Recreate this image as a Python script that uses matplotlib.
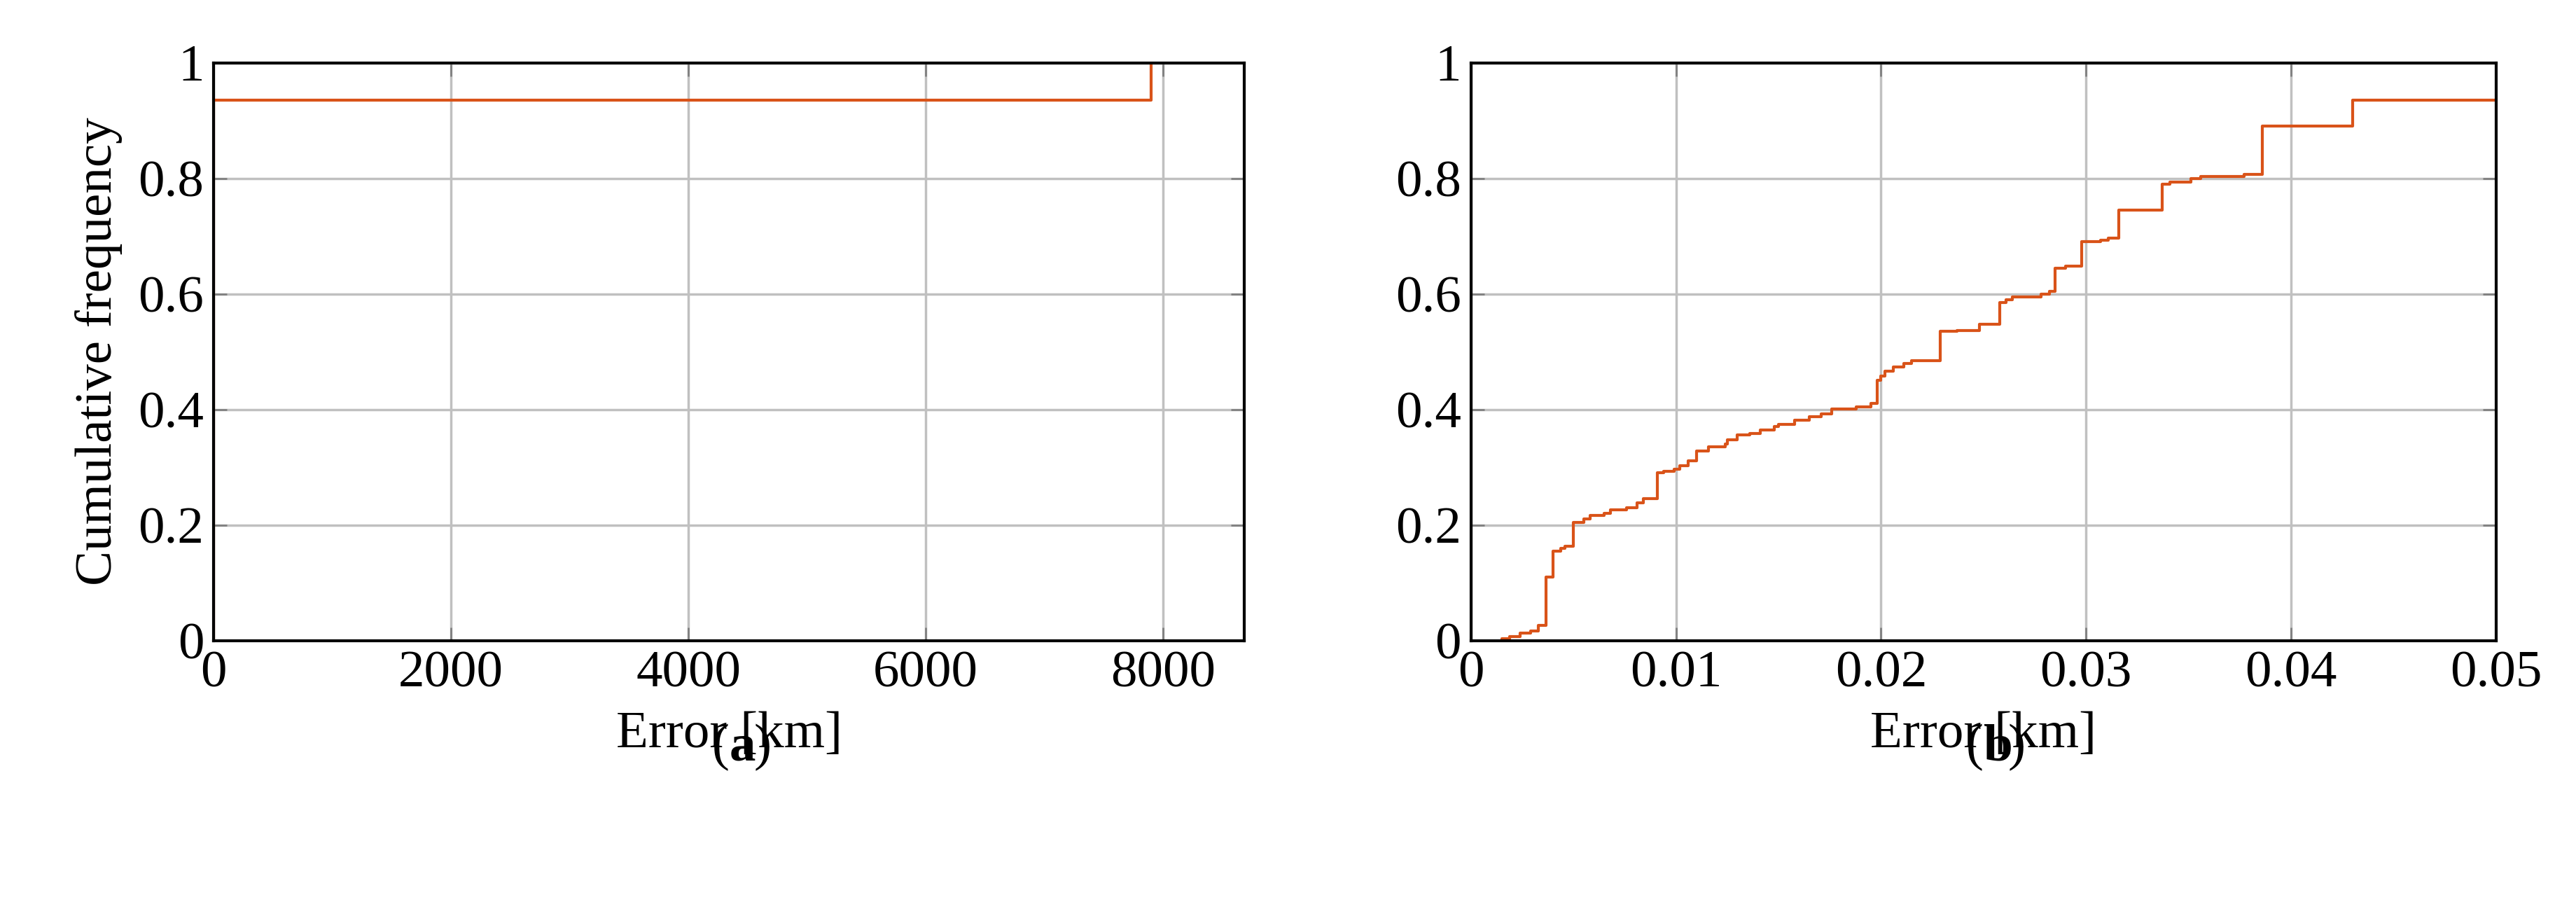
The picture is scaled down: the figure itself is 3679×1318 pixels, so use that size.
import matplotlib
matplotlib.use("Agg")
import matplotlib.pyplot as plt
import numpy as np

# ECDF step points (panel b), x in km, y cumulative frequency
err_b = [0.0015,0.0019,0.0024,0.0029,0.0033,0.00366,0.0040,0.00437,0.0046,0.0050,0.0055,0.0058,
         0.0065,0.0068,0.0076,0.0081,0.0084,0.0091,0.0094,0.0099,0.0102,0.0106,0.0110,0.0116,
         0.0124,0.0125,0.0130,0.0136,0.0141,0.0148,0.0150,0.0158,0.0165,0.0171,0.0176,0.0188,
         0.0195,0.0198,0.0200,0.0202,0.0206,0.0211,0.0215,0.0229,0.0237,0.0248,0.0258,0.0261,
         0.0264,0.0278,0.0282,0.0285,0.0290,0.0298,0.0307,0.0311,0.0316,0.0337,0.0341,0.0351,
         0.0356,0.0377,0.0386,0.0430,0.0500]
cdf_b = [0.003,0.0066,0.013,0.017,0.026,0.11,0.155,0.16,0.163,0.205,0.21,0.217,
         0.22,0.226,0.23,0.238,0.246,0.29,0.293,0.297,0.303,0.311,0.328,0.335,
         0.34,0.347,0.356,0.358,0.365,0.37,0.374,0.382,0.387,0.392,0.401,0.405,
         0.41,0.45,0.458,0.466,0.473,0.48,0.485,0.535,0.537,0.547,0.585,0.59,
         0.595,0.60,0.605,0.645,0.648,0.69,0.693,0.697,0.745,0.79,0.793,0.80,
         0.803,0.807,0.89,0.935,0.935]
# panel a: full range including the outlier
err_a = [0.0, 0.0, 7900.0, 7900.0]
cdf_a = [0.0, 0.935, 0.935, 1.0]

color = "#D95319"
plt.rcParams['font.family'] = ['Liberation Serif', 'DejaVu Serif']
fs = 54

fig = plt.figure(figsize=(36.79, 13.18), dpi=100)
ax_a = fig.add_axes([0.083, 0.306, 0.400, 0.626])
ax_b = fig.add_axes([0.571, 0.306, 0.398, 0.626])

ax_a.plot(err_a, cdf_a, color=color, lw=3)
ax_b.step([0.0015] + err_b, [0.0] + cdf_b, where='post', color=color, lw=3)

ax_a.set_xlim(0, 8685)
ax_a.set_xticks([0, 2000, 4000, 6000, 8000])
ax_b.set_xlim(0, 0.05)
ax_b.set_xticks([0, 0.01, 0.02, 0.03, 0.04, 0.05])
ax_b.set_xticklabels(["0", "0.01", "0.02", "0.03", "0.04", "0.05"])
for ax in (ax_a, ax_b):
    ax.set_ylim(0, 1)
    ax.set_yticks([0, 0.2, 0.4, 0.6, 0.8, 1])
    ax.set_yticklabels(["0", "0.2", "0.4", "0.6", "0.8", "1"])
    ax.grid(True, color="#c0c0c0", lw=2.5)
    ax.set_axisbelow(True)
    ax.tick_params(direction='in', length=14, width=2, color='#808080',
                   top=True, right=True, labelsize=fs, pad=10)
    for s in ax.spines.values():
        s.set_linewidth(3)
    ax.set_xlabel("Error [km]", fontsize=fs, labelpad=14)
ax_a.set_ylabel("Cumulative frequency", fontsize=fs, labelpad=16)

for xc, lab in ((0.283, "a"), (0.770, "b")):
    fig.text(xc, 0.19, "(", fontsize=fs, ha='right', va='center')
    t = fig.text(xc, 0.19, lab, fontsize=fs, ha='left', va='center', fontweight='bold')
    fig.text(xc + 0.0095, 0.19, ")", fontsize=fs, ha='left', va='center')

fig.savefig("out.png", dpi=100)
